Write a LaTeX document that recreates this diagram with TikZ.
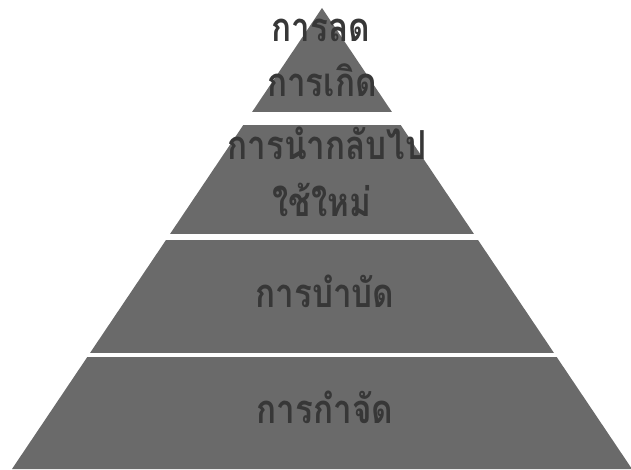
\documentclass[tikz,border=0pt]{standalone}
\usepackage{fontspec}
\newfontfamily\thaifont[Script=Thai,FakeStretch=0.83]{Loma}
\definecolor{pyrgray}{RGB}{106,106,106}
\definecolor{txtgray}{RGB}{55,55,55}
\tikzset{
  lbl/.style={anchor=base, text=txtgray, font=\thaifont\bfseries\fontsize{40}{48}\selectfont, inner sep=0pt},
  gap/.style={fill=white, draw=none}
}
\begin{document}
\begin{tikzpicture}[x=1pt,y=1pt]
\useasboundingbox (0,0) rectangle (631,469);
\clip (0,0) rectangle (631,469);
\fill[pyrgray] (12,0) -- (322,461) -- (632,0) -- cycle;
\fill[gap] (0,344) rectangle (631,357);
\fill[gap] (0,229) rectangle (631,235);
\fill[gap] (0,112) rectangle (631,116);
\node[lbl] (t1) at (321,427) {การลด};
\node[lbl] (t2) at (322,372) {การเกิด};
\node[lbl] (t3) at (327,309) {การนำกลับไป};
\node[lbl] (t4) at (322,252) {ใช้ใหม่};
\node[lbl] (t5) at (325,162) {การบำบัด};
\node[lbl] (t6) at (325,46) {การกำจัด};
\end{tikzpicture}
\end{document}
